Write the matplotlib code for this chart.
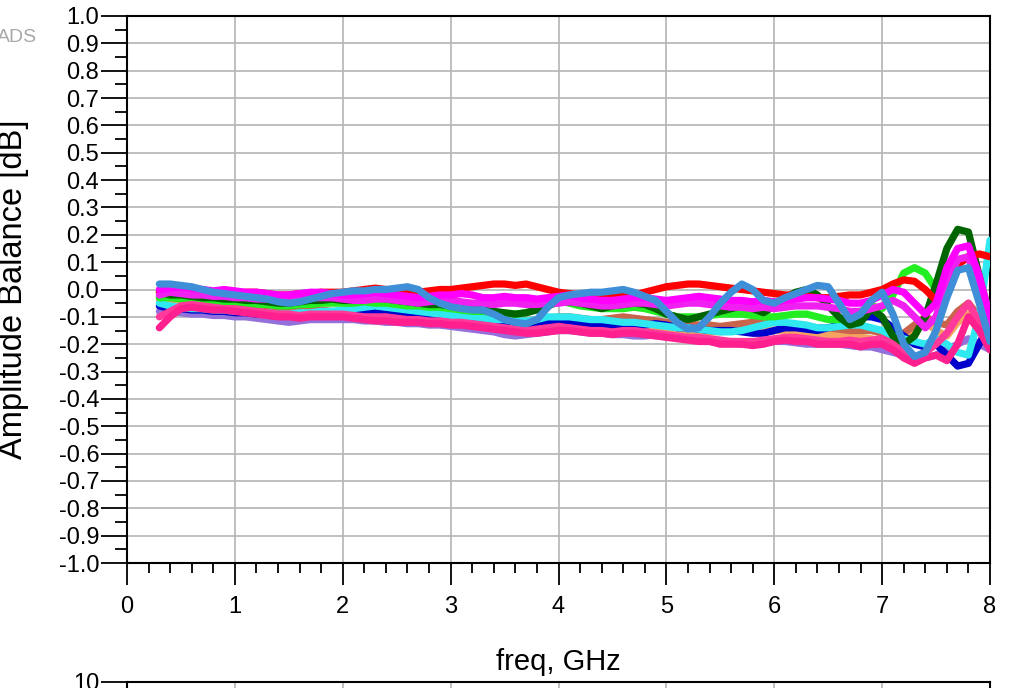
import matplotlib
matplotlib.use("Agg")
import matplotlib.pyplot as plt
from matplotlib.ticker import MultipleLocator, FormatStrFormatter

plt.rcParams['font.family'] = ['Liberation Sans', 'DejaVu Sans']

# frequency points, GHz
freq = [0.3, 0.4, 0.5, 0.6, 0.7, 0.8, 0.9,
        1.0, 1.1, 1.2, 1.3, 1.4, 1.5, 1.6, 1.7, 1.8, 1.9,
        2.0, 2.1, 2.2, 2.3, 2.4, 2.5, 2.6, 2.7, 2.8, 2.9,
        3.0, 3.1, 3.2, 3.3, 3.4, 3.5, 3.6, 3.7, 3.8, 3.9,
        4.0, 4.1, 4.2, 4.3, 4.4, 4.5, 4.6, 4.7, 4.8, 4.9,
        5.0, 5.1, 5.2, 5.3, 5.4, 5.5, 5.6, 5.7, 5.8, 5.9,
        6.0, 6.1, 6.2, 6.3, 6.4, 6.5, 6.6, 6.7, 6.8, 6.9,
        7.0, 7.1, 7.2, 7.3, 7.4, 7.5, 7.6, 7.7, 7.8, 7.9,
        8.0]

# amplitude balance, dB (one list per measured path)
lavender = [-0.08, -0.08, -0.085, -0.09, -0.09, -0.095, -0.095,
            -0.1, -0.1, -0.105, -0.11, -0.115, -0.12, -0.115, -0.11, -0.11, -0.11,
            -0.11, -0.11, -0.115, -0.115, -0.12, -0.12, -0.125, -0.125, -0.13, -0.13,
            -0.135, -0.14, -0.145, -0.15, -0.155, -0.165, -0.17, -0.165, -0.16, -0.155,
            -0.15, -0.15, -0.155, -0.16, -0.16, -0.165, -0.165, -0.17, -0.17, -0.165,
            -0.17, -0.175, -0.18, -0.185, -0.19, -0.19, -0.195, -0.2, -0.2, -0.195,
            -0.19, -0.19, -0.195, -0.2, -0.2, -0.2, -0.2, -0.205, -0.21, -0.21,
            -0.22, -0.23, -0.24, -0.25, -0.25, -0.24, -0.22, -0.2, -0.18, -0.2,
            -0.22]
peach = [-0.04, -0.05, -0.055, -0.06, -0.06, -0.065, -0.065,
         -0.07, -0.07, -0.075, -0.08, -0.08, -0.085, -0.085, -0.085, -0.09, -0.09,
         -0.09, -0.095, -0.095, -0.1, -0.1, -0.105, -0.105, -0.11, -0.11, -0.11,
         -0.115, -0.115, -0.12, -0.12, -0.125, -0.125, -0.13, -0.13, -0.125, -0.125,
         -0.12, -0.125, -0.13, -0.13, -0.135, -0.135, -0.13, -0.13, -0.135, -0.14,
         -0.14, -0.145, -0.15, -0.15, -0.155, -0.155, -0.15, -0.15, -0.145, -0.145,
         -0.15, -0.15, -0.155, -0.16, -0.16, -0.165, -0.17, -0.17, -0.175, -0.18,
         -0.19, -0.2, -0.18, -0.15, -0.12, -0.15, -0.17, -0.12, -0.09, -0.13,
         -0.18]
brown = [-0.03, -0.02, -0.025, -0.03, -0.035, -0.04, -0.045,
         -0.05, -0.055, -0.06, -0.065, -0.07, -0.075, -0.075, -0.075, -0.075, -0.08,
         -0.08, -0.08, -0.085, -0.085, -0.09, -0.09, -0.09, -0.095, -0.095, -0.1,
         -0.1, -0.1, -0.105, -0.105, -0.11, -0.11, -0.115, -0.115, -0.11, -0.11,
         -0.1, -0.1, -0.105, -0.11, -0.11, -0.105, -0.1, -0.105, -0.11, -0.115,
         -0.12, -0.12, -0.125, -0.13, -0.13, -0.135, -0.13, -0.125, -0.12, -0.12,
         -0.12, -0.125, -0.13, -0.135, -0.14, -0.14, -0.145, -0.15, -0.15, -0.15,
         -0.16, -0.17, -0.16, -0.13, -0.1, -0.12, -0.13, -0.08, -0.05, -0.1,
         -0.15]
blue = [-0.06, -0.07, -0.07, -0.075, -0.075, -0.08, -0.08,
        -0.085, -0.085, -0.09, -0.09, -0.095, -0.095, -0.09, -0.09, -0.085, -0.085,
        -0.085, -0.085, -0.08, -0.085, -0.09, -0.09, -0.095, -0.1, -0.1, -0.105,
        -0.11, -0.11, -0.115, -0.12, -0.125, -0.125, -0.13, -0.13, -0.125, -0.12,
        -0.12, -0.12, -0.125, -0.125, -0.13, -0.13, -0.135, -0.14, -0.13, -0.125,
        -0.13, -0.14, -0.14, -0.145, -0.15, -0.15, -0.15, -0.155, -0.16, -0.16,
        -0.15, -0.14, -0.14, -0.145, -0.15, -0.14, -0.13, -0.12, -0.1, -0.1,
        -0.11, -0.14, -0.17, -0.2, -0.21, -0.2, -0.24, -0.28, -0.27, -0.2,
        -0.12]
cyan = [-0.05, -0.06, -0.065, -0.07, -0.07, -0.075, -0.075,
        -0.08, -0.08, -0.085, -0.085, -0.09, -0.09, -0.085, -0.085, -0.08, -0.08,
        -0.075, -0.07, -0.065, -0.06, -0.065, -0.07, -0.075, -0.08, -0.085, -0.09,
        -0.095, -0.1, -0.1, -0.105, -0.11, -0.11, -0.115, -0.115, -0.11, -0.1,
        -0.1, -0.1, -0.105, -0.11, -0.11, -0.115, -0.12, -0.12, -0.125, -0.13,
        -0.135, -0.14, -0.14, -0.145, -0.15, -0.155, -0.155, -0.15, -0.14, -0.13,
        -0.12, -0.12, -0.125, -0.13, -0.14, -0.14, -0.135, -0.13, -0.13, -0.14,
        -0.15, -0.17, -0.18, -0.19, -0.2, -0.18, -0.2, -0.23, -0.24, -0.1,
        0.18]
lime = [-0.03, -0.03, -0.035, -0.04, -0.04, -0.045, -0.045,
        -0.05, -0.05, -0.055, -0.055, -0.06, -0.06, -0.055, -0.055, -0.05, -0.05,
        -0.05, -0.05, -0.045, -0.05, -0.05, -0.055, -0.06, -0.06, -0.065, -0.065,
        -0.07, -0.075, -0.08, -0.08, -0.085, -0.09, -0.09, -0.085, -0.07, -0.05,
        -0.04, -0.05, -0.06, -0.065, -0.07, -0.07, -0.07, -0.065, -0.07, -0.08,
        -0.09, -0.1, -0.1, -0.1, -0.095, -0.09, -0.09, -0.09, -0.095, -0.1,
        -0.1, -0.095, -0.09, -0.09, -0.1, -0.11, -0.11, -0.1, -0.08, -0.06,
        -0.07, -0.02, 0.06, 0.08, 0.06, 0.0, 0.02, 0.1, 0.12, 0.05,
        -0.1]
green = [-0.01, -0.02, -0.02, -0.025, -0.03, -0.03, -0.035,
         -0.035, -0.04, -0.04, -0.045, -0.05, -0.05, -0.045, -0.04, -0.04, -0.035,
         -0.04, -0.04, -0.035, -0.03, -0.035, -0.04, -0.045, -0.05, -0.055, -0.055,
         -0.06, -0.065, -0.07, -0.075, -0.08, -0.085, -0.09, -0.085, -0.075, -0.06,
         -0.045, -0.045, -0.05, -0.06, -0.07, -0.06, -0.055, -0.05, -0.055, -0.07,
         -0.09, -0.1, -0.11, -0.1, -0.09, -0.08, -0.07, -0.06, -0.07, -0.085,
         -0.06, -0.03, -0.01, 0.0, -0.02, -0.06, -0.1, -0.13, -0.12, -0.07,
         -0.1, -0.17, -0.2, -0.17, -0.1, 0.02, 0.15, 0.22, 0.21, 0.05,
         -0.15]
deeppink2 = [-0.1, -0.08, -0.06, -0.055, -0.06, -0.065, -0.07,
             -0.07, -0.075, -0.08, -0.085, -0.09, -0.09, -0.095, -0.09, -0.09, -0.09,
             -0.09, -0.095, -0.1, -0.1, -0.1, -0.105, -0.11, -0.11, -0.115, -0.115,
             -0.12, -0.12, -0.125, -0.13, -0.135, -0.14, -0.145, -0.15, -0.145, -0.14,
             -0.135, -0.14, -0.145, -0.15, -0.15, -0.155, -0.15, -0.15, -0.155, -0.16,
             -0.165, -0.17, -0.175, -0.175, -0.18, -0.185, -0.19, -0.19, -0.19, -0.185,
             -0.18, -0.175, -0.175, -0.18, -0.185, -0.19, -0.19, -0.185, -0.19, -0.185,
             -0.18, -0.2, -0.23, -0.25, -0.23, -0.2, -0.16, -0.1, -0.05, -0.12,
             -0.2]
red = [-0.01, 0.0, 0.0, -0.005, -0.01, -0.01, -0.01,
       -0.015, -0.01, -0.01, -0.015, -0.02, -0.02, -0.015, -0.015, -0.01, -0.01,
       -0.01, -0.005, 0.0, 0.005, 0.0, -0.005, -0.01, -0.01, -0.005, 0.0,
       0.0, 0.005, 0.01, 0.015, 0.02, 0.02, 0.015, 0.02, 0.01, 0.0,
       -0.01, -0.015, -0.02, -0.02, -0.015, -0.02, -0.025, -0.02, -0.01, 0.0,
       0.01, 0.015, 0.02, 0.02, 0.015, 0.01, 0.005, 0.0, -0.005, -0.01,
       -0.015, -0.02, -0.02, -0.025, -0.03, -0.03, -0.025, -0.02, -0.02, -0.01,
       0.0, 0.02, 0.035, 0.03, 0.0, -0.04, 0.02, 0.09, 0.12, 0.13,
       0.12]
deeppink = [-0.14, -0.1, -0.07, -0.065, -0.07, -0.075, -0.075,
            -0.08, -0.085, -0.09, -0.095, -0.1, -0.1, -0.105, -0.1, -0.1, -0.1,
            -0.1, -0.105, -0.11, -0.115, -0.115, -0.12, -0.12, -0.12, -0.125, -0.125,
            -0.13, -0.13, -0.135, -0.14, -0.145, -0.15, -0.155, -0.16, -0.16, -0.155,
            -0.15, -0.15, -0.155, -0.16, -0.16, -0.165, -0.16, -0.16, -0.165, -0.17,
            -0.175, -0.18, -0.185, -0.19, -0.19, -0.2, -0.2, -0.2, -0.205, -0.2,
            -0.19, -0.185, -0.19, -0.19, -0.2, -0.2, -0.2, -0.2, -0.21, -0.2,
            -0.2, -0.22, -0.25, -0.27, -0.25, -0.24, -0.26, -0.2, -0.1, -0.15,
            -0.22]
magenta2 = [-0.02, -0.01, -0.015, -0.02, -0.02, -0.025, -0.025,
            -0.03, -0.03, -0.035, -0.035, -0.04, -0.04, -0.035, -0.03, -0.03, -0.03,
            -0.035, -0.04, -0.04, -0.035, -0.035, -0.04, -0.045, -0.05, -0.045, -0.04,
            -0.04, -0.045, -0.05, -0.05, -0.055, -0.05, -0.05, -0.055, -0.055, -0.05,
            -0.05, -0.045, -0.05, -0.055, -0.06, -0.06, -0.055, -0.05, -0.05, -0.055,
            -0.06, -0.055, -0.05, -0.05, -0.055, -0.06, -0.065, -0.065, -0.07, -0.065,
            -0.07, -0.065, -0.06, -0.06, -0.06, -0.065, -0.07, -0.08, -0.08, -0.07,
            -0.06, -0.04, -0.06, -0.1, -0.14, -0.1, 0.02, 0.11, 0.12, 0.0,
            -0.15]
magenta = [0.0, 0.005, 0.01, 0.005, 0.0, -0.005, 0.0,
           -0.005, -0.01, -0.01, -0.015, -0.02, -0.02, -0.015, -0.01, -0.01, -0.015,
           -0.02, -0.02, -0.015, -0.01, -0.015, -0.02, -0.025, -0.03, -0.025, -0.02,
           -0.02, -0.015, -0.02, -0.03, -0.03, -0.025, -0.03, -0.03, -0.035, -0.03,
           -0.025, -0.02, -0.03, -0.035, -0.04, -0.04, -0.035, -0.03, -0.03, -0.035,
           -0.04, -0.035, -0.03, -0.025, -0.03, -0.035, -0.04, -0.04, -0.045, -0.04,
           -0.045, -0.04, -0.035, -0.03, -0.03, -0.035, -0.04, -0.05, -0.05, -0.04,
           -0.02, 0.0, -0.01, -0.05, -0.09, -0.05, 0.08, 0.15, 0.16, 0.05,
           -0.1]
steel = [0.02, 0.02, 0.015, 0.01, 0.0, -0.01, -0.015,
         -0.02, -0.025, -0.03, -0.035, -0.045, -0.05, -0.045, -0.035, -0.025, -0.015,
         -0.01, -0.005, -0.005, 0.0, 0.0, 0.005, 0.01, 0.0, -0.03, -0.05,
         -0.063, -0.07, -0.075, -0.075, -0.09, -0.11, -0.12, -0.125, -0.11, -0.065,
         -0.03, -0.02, -0.015, -0.01, -0.01, -0.005, 0.0, -0.01, -0.025, -0.04,
         -0.08, -0.12, -0.145, -0.14, -0.1, -0.05, -0.01, 0.02, 0.0, -0.04,
         -0.05, -0.03, -0.015, 0.0, 0.015, 0.01, -0.05, -0.11, -0.09, -0.04,
         -0.01, -0.09, -0.2, -0.245, -0.23, -0.15, -0.03, 0.07, 0.08, -0.05,
         -0.19]

series = [lavender, peach, brown, blue, cyan, lime, green, deeppink2, red,
          deeppink, magenta2, magenta, steel]
colors = ['#9370db', '#f4a460', '#c8644b', '#0000cd', '#30e8f0', '#22ee22',
          '#006400', '#ff3a9a', '#ff0000', '#ff1f8f', '#f020f0', '#ff00ff', '#3f8fd8']

fig = plt.figure(figsize=(10.13, 6.88), dpi=100)
ax = fig.add_axes([127 / 1013, 1 - 563 / 688, 863 / 1013, 547 / 688])

for ys, c in zip(series, colors):
    ax.plot(freq, ys, color=c, lw=5.2, solid_capstyle='round',
            solid_joinstyle='round', zorder=3)

ax.set_xlim(0, 8)
ax.set_ylim(-1.0, 1.0)
ax.xaxis.set_major_locator(MultipleLocator(1))
ax.xaxis.set_minor_locator(MultipleLocator(0.2))
ax.yaxis.set_major_locator(MultipleLocator(0.1))
ax.yaxis.set_minor_locator(MultipleLocator(0.05))
ax.yaxis.set_major_formatter(FormatStrFormatter('%.1f'))
ax.grid(True, which='major', color='#b4b4b4', lw=1.2, zorder=0)
ax.tick_params(axis='y', which='major', direction='out', length=19, width=1.3, pad=1, labelsize=17)
ax.tick_params(axis='y', which='minor', direction='out', length=8.5, width=1.3)
ax.tick_params(axis='x', which='major', direction='out', length=16, width=1.3, pad=8, labelsize=17)
ax.tick_params(axis='x', which='minor', direction='out', length=7, width=1.3)
for s in ax.spines.values():
    s.set_linewidth(1.5)
ax.set_ylabel('Amplitude Balance [dB]', fontsize=23.5)
ax.set_xlabel('freq, GHz', fontsize=21)
ax.yaxis.set_label_coords(-0.114, 0.5)
ax.xaxis.set_label_coords(0.5, -0.155)

fig.text(-0.003, 1 - 38 / 688, 'ADS', fontsize=14, color='#a8a8a8', va='center', ha='left')

# top of the next plot, cut off by the page
ax2 = fig.add_axes([127 / 1013, -0.3, 863 / 1013, 0.3 + 6 / 688])
ax2.set_xlim(0, 8)
ax2.set_ylim(-10, 10)
ax2.set_yticks([10])
ax2.set_yticklabels(['10'])
ax2.xaxis.set_major_locator(MultipleLocator(1))
ax2.set_xticklabels([])
ax2.grid(True, axis='x', color='#b4b4b4', lw=1.2)
ax2.tick_params(axis='y', direction='out', length=19, width=1.3, pad=1, labelsize=17)
for s in ax2.spines.values():
    s.set_linewidth(1.5)

fig.savefig('out.png', dpi=100)
